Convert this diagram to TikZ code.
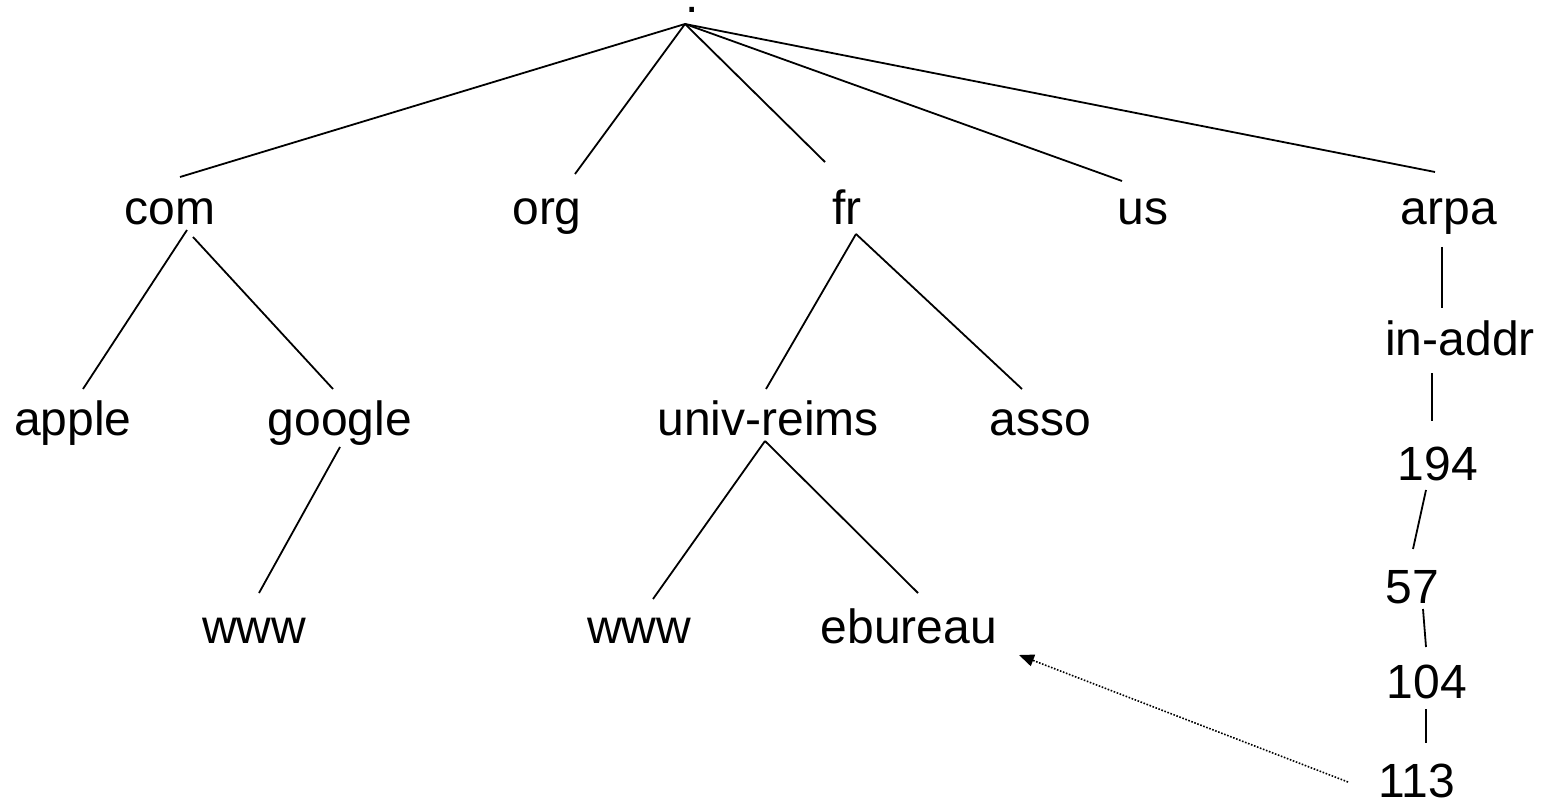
\documentclass[tikz,border=0pt]{standalone}
\usepackage{fontspec}
\setmainfont{Liberation Sans}
\usetikzlibrary{arrows.meta}

\begin{document}
\begin{tikzpicture}[x=1pt, y=-1pt,
    dom/.style = {anchor=base, inner sep=0pt, font=\fontsize{48}{58}\selectfont},
    link/.style = {draw, line width=1.8pt},
    ptr/.style = {line width=1.6pt, dash pattern=on 1.6pt off 1.6pt, -{Triangle[length=15pt,width=12pt]}}]
    \useasboundingbox (0,0) rectangle (1550,802);
    % labels
    \node[dom] (root) at (692,13) {.};
    \node[dom] (com) at (170,225) {com};
    \node[dom] (org) at (547,225) {org};
    \node[dom] (fr) at (847,225) {fr};
    \node[dom] (us) at (1143,225) {us};
    \node[dom] (arpa) at (1449,225) {arpa};
    \node[dom] (apple) at (73,435) {apple};
    \node[dom] (google) at (340,435) {google};
    \node[dom] (univ) at (768,435) {univ-reims};
    \node[dom] (asso) at (1040,435) {asso};
    \node[dom] (www1) at (254,643) {www};
    \node[dom] (www2) at (639,643) {www};
    \node[dom] (ebureau) at (909,643) {ebureau};
    \node[dom] (inaddr) at (1460,355) {in-addr};
    \node[dom] (n194) at (1438,480) {194};
    \node[dom] (n57) at (1412,603) {57};
    \node[dom] (n104) at (1427,698) {104};
    \node[dom] (n113) at (1417,797) {113};
    % tree
    \path[link] ([shift={(-7,11)}]root.base) edge ([shift={(10,-48)}]com.base);
    \path[link] ([shift={(-7,11)}]root.base) edge ([shift={(28,-51)}]org.base);
    \path[link] ([shift={(-7,11)}]root.base) edge ([shift={(-22,-63)}]fr.base);
    \path[link] ([shift={(-7,11)}]root.base) edge ([shift={(-21,-44)}]us.base);
    \path[link] ([shift={(-7,11)}]root.base) edge ([shift={(-14,-53)}]arpa.base);
    \path[link] ([shift={(17,5)}]com.base) edge ([shift={(10,-46)}]apple.base);
    \path[link] ([shift={(23,12)}]com.base) edge ([shift={(-7,-46)}]google.base);
    \path[link] ([shift={(0,12)}]google.base) edge ([shift={(5,-50)}]www1.base);
    \path[link] ([shift={(9,9)}]fr.base) edge ([shift={(-2,-46)}]univ.base);
    \path[link] ([shift={(9,9)}]fr.base) edge ([shift={(-18,-46)}]asso.base);
    \path[link] ([shift={(-3,6)}]univ.base) edge ([shift={(14,-44)}]www2.base);
    \path[link] ([shift={(-3,6)}]univ.base) edge ([shift={(9,-50)}]ebureau.base);
    \path[link] ([shift={(-7,22)}]arpa.base) edge ([shift={(-18,-47)}]inaddr.base);
    \path[link] ([shift={(-28,18)}]inaddr.base) edge ([shift={(-6,-59)}]n194.base);
    \path[link] ([shift={(-12,10)}]n194.base) edge ([shift={(1,-54)}]n57.base);
    \path[link] ([shift={(11,6)}]n57.base) edge ([shift={(-1,-51)}]n104.base);
    \path[link] ([shift={(-1,11)}]n104.base) edge ([shift={(9,-54)}]n113.base);
    % reverse lookup
    \draw[ptr] ([shift={(-69,-15)}]n113.base) -- ([shift={(110,12)}]ebureau.base);
\end{tikzpicture}
\end{document}
